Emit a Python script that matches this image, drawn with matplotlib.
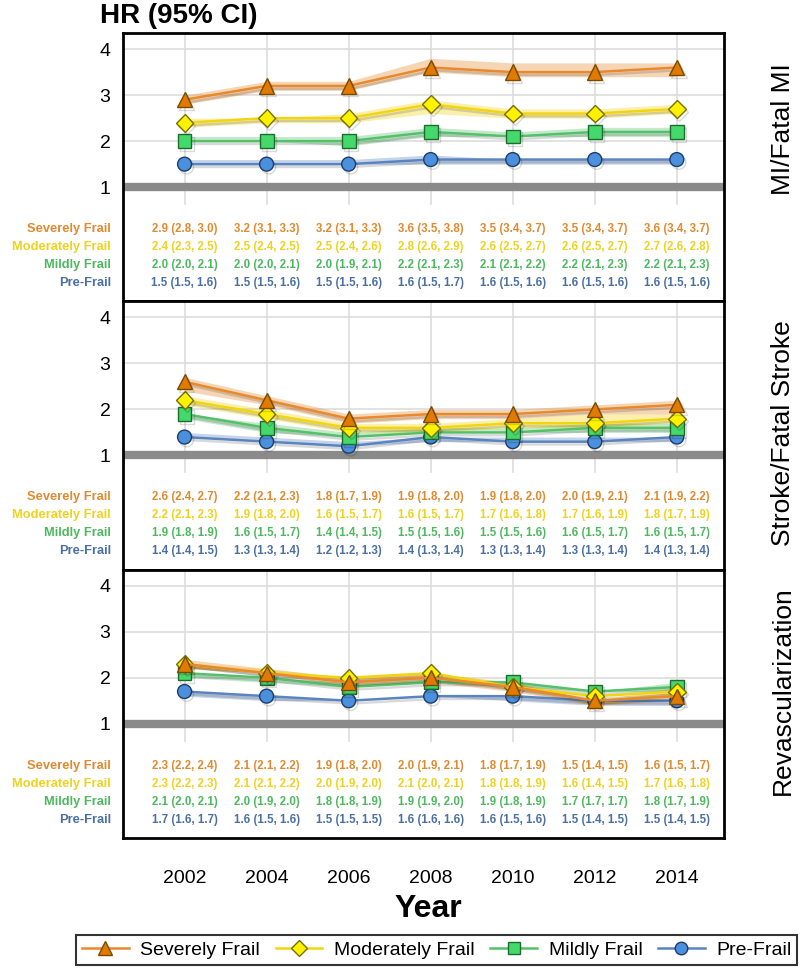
import numpy as np
import matplotlib
matplotlib.use("Agg")
import matplotlib.pyplot as plt
from matplotlib.lines import Line2D
import matplotlib.patheffects as pe

plt.rcParams['font.family'] = ['Liberation Sans', 'DejaVu Sans']

years = [2002, 2004, 2006, 2008, 2010, 2012, 2014]
groups = ['Severely Frail', 'Moderately Frail', 'Mildly Frail', 'Pre-Frail']
outcomes = ['MI/Fatal MI', 'Stroke/Fatal Stroke', 'Revascularization']

# hazard ratios, lower and upper CI per outcome, group order as above
mi_hr = [[2.9, 3.2, 3.2, 3.6, 3.5, 3.5, 3.6],
         [2.4, 2.5, 2.5, 2.8, 2.6, 2.6, 2.7],
         [2.0, 2.0, 2.0, 2.2, 2.1, 2.2, 2.2],
         [1.5, 1.5, 1.5, 1.6, 1.6, 1.6, 1.6]]
mi_lo = [[2.8, 3.1, 3.1, 3.5, 3.4, 3.4, 3.4],
         [2.3, 2.4, 2.4, 2.6, 2.5, 2.5, 2.6],
         [2.0, 2.0, 1.9, 2.1, 2.1, 2.1, 2.1],
         [1.5, 1.5, 1.5, 1.5, 1.5, 1.5, 1.5]]
mi_hi = [[3.0, 3.3, 3.3, 3.8, 3.7, 3.7, 3.7],
         [2.5, 2.5, 2.6, 2.9, 2.7, 2.7, 2.8],
         [2.1, 2.1, 2.1, 2.3, 2.2, 2.3, 2.3],
         [1.6, 1.6, 1.6, 1.7, 1.6, 1.6, 1.6]]

st_hr = [[2.6, 2.2, 1.8, 1.9, 1.9, 2.0, 2.1],
         [2.2, 1.9, 1.6, 1.6, 1.7, 1.7, 1.8],
         [1.9, 1.6, 1.4, 1.5, 1.5, 1.6, 1.6],
         [1.4, 1.3, 1.2, 1.4, 1.3, 1.3, 1.4]]
st_lo = [[2.4, 2.1, 1.7, 1.8, 1.8, 1.9, 1.9],
         [2.1, 1.8, 1.5, 1.5, 1.6, 1.6, 1.7],
         [1.8, 1.5, 1.4, 1.5, 1.5, 1.5, 1.5],
         [1.4, 1.3, 1.2, 1.3, 1.3, 1.3, 1.3]]
st_hi = [[2.7, 2.3, 1.9, 2.0, 2.0, 2.1, 2.2],
         [2.3, 2.0, 1.7, 1.7, 1.8, 1.9, 1.9],
         [1.9, 1.7, 1.5, 1.6, 1.6, 1.7, 1.7],
         [1.5, 1.4, 1.3, 1.4, 1.4, 1.4, 1.4]]

rv_hr = [[2.3, 2.1, 1.9, 2.0, 1.8, 1.5, 1.6],
         [2.3, 2.1, 2.0, 2.1, 1.8, 1.6, 1.7],
         [2.1, 2.0, 1.8, 1.9, 1.9, 1.7, 1.8],
         [1.7, 1.6, 1.5, 1.6, 1.6, 1.5, 1.5]]
rv_lo = [[2.2, 2.1, 1.8, 1.9, 1.7, 1.4, 1.5],
         [2.2, 2.1, 1.9, 2.0, 1.8, 1.4, 1.6],
         [2.0, 1.9, 1.8, 1.9, 1.8, 1.7, 1.7],
         [1.6, 1.5, 1.5, 1.6, 1.5, 1.4, 1.4]]
rv_hi = [[2.4, 2.2, 2.0, 2.1, 1.9, 1.5, 1.7],
         [2.3, 2.2, 2.0, 2.1, 1.9, 1.5, 1.8],
         [2.1, 2.0, 1.9, 2.0, 1.9, 1.7, 1.9],
         [1.7, 1.6, 1.5, 1.6, 1.6, 1.5, 1.5]]

line_colors = ['#E8892B', '#F2D50F', '#55C06A', '#5A84C0']
text_colors = ['#E0892F', '#EFD21F', '#4DB85F', '#4A6FA5']
face_colors = ['#E07A00', '#FFF200', '#45D86A', '#4A90DC']
edge_colors = ['#7A4A00', '#7A7000', '#1E6B2E', '#1F3D6B']
markers = ['^', 'D', 's', 'o']
msizes = [11, 9, 10, 10]

panels = [(mi_hr, mi_lo, mi_hi), (st_hr, st_lo, st_hi), (rv_hr, rv_lo, rv_hi)]
title_y = [0.64, 0.51, 0.55]
row_y = [0.2695, 0.2024, 0.1353, 0.0682]

fig = plt.figure(figsize=(8, 9.69), dpi=100)
ph = 268.3 / 969
top = 1 - 33 / 969

for p, (hr, lo, hi) in enumerate(panels):
    ax = fig.add_axes([0.15375, top - (p + 1) * ph, 0.75125, ph])
    ax.set_xlim(2000.5, 2015.15)
    ax.set_ylim(-1.48, 4.35)
    # grid
    for yv in [2, 3, 4]:
        ax.axhline(yv, color='#DDDDDD', lw=1.2, zorder=0)
    for x in years:
        ax.plot([x, x], [0.63, 4.35], color='#DDDDDD', lw=1.2, zorder=0)
    ax.axhline(1, color='#8A8A8A', lw=6, zorder=1)

    for g in range(4)[::-1]:
        ax.fill_between(years, lo[g], hi[g], color=line_colors[g], alpha=0.35, lw=0, zorder=2)
        ax.plot(years, hr[g], color=line_colors[g], lw=1.8, marker=markers[g], ms=msizes[g],
                mfc=face_colors[g], mec=edge_colors[g], mew=1, zorder=3 + (3 - g),
                path_effects=[pe.SimpleLineShadow(offset=(1.5, -2), alpha=0.15), pe.Normal()])

    # table
    for g in range(4):
        ax.text(-0.02, row_y[g], groups[g], transform=ax.transAxes, ha='right', va='center',
                fontsize=9.3, fontweight='bold', color=text_colors[g])
        for i, x in enumerate(years):
            s = f'{hr[g][i]:.1f} ({lo[g][i]:.1f}, {hi[g][i]:.1f})'
            ax.text(x, row_y[g], s, transform=ax.get_xaxis_transform(), ha='center', va='center',
                    fontsize=8.3, fontweight='bold', color=text_colors[g])

    ax.set_yticks([1, 2, 3, 4])
    ax.set_yticklabels(['1', '2', '3', '4'], fontsize=14)
    ax.tick_params(axis='y', length=0, pad=9)
    ax.set_xticks([])
    for sp in ax.spines.values():
        sp.set_linewidth(2)
        sp.set_color('black')

    ax.text(1.098, title_y[p], outcomes[p], transform=ax.transAxes, rotation=90,
            ha='center', va='center', fontsize=19)

    if p == 2:
        for x in years:
            ax.text(x, -0.15, str(x), transform=ax.get_xaxis_transform(), ha='center',
                    va='center', fontsize=14)

fig.text(0.125, 0.983, 'HR (95% CI)', fontsize=20, fontweight='bold', ha='left', va='center')
fig.text(0.535, 1 - 909 / 969, 'Year', fontsize=23, fontweight='bold', ha='center', va='center')

handles = [Line2D([], [], color=line_colors[g], lw=1.8, marker=markers[g], ms=msizes[g] - 1,
                  mfc=face_colors[g], mec=edge_colors[g]) for g in range(4)]
leg = fig.legend(handles, groups, loc='center', bbox_to_anchor=(0.546, 1 - 950 / 969), ncol=4,
                 fontsize=14, frameon=True, fancybox=False, edgecolor='black',
                 handlelength=2.4, columnspacing=0.8, handletextpad=0.6, borderpad=0.3)
leg.get_frame().set_linewidth(1.5)

fig.savefig('out.png', dpi=100)
